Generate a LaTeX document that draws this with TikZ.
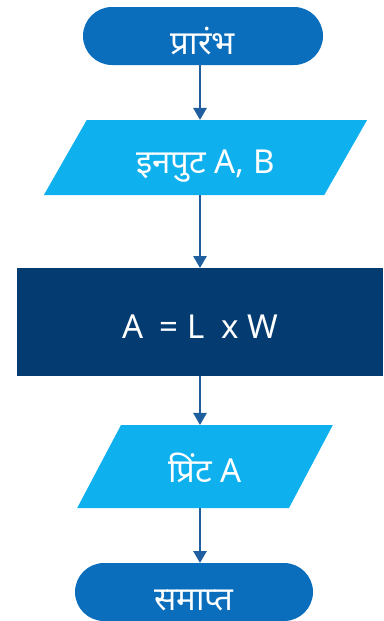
\documentclass[tikz,border=0pt]{standalone}
\usepackage{fontspec}
\setmainfont{Noto Sans}
\newfontfamily\devfont[Script=Devanagari]{Noto Sans}
\usetikzlibrary{arrows.meta, shapes.geometric}
\definecolor{azulterminal}{HTML}{0A6EBD}
\definecolor{azulentrada}{HTML}{0FB0EE}
\definecolor{azulproceso}{HTML}{043C72}
\definecolor{azulflecha}{HTML}{1F5F9F}
\tikzset{
    terminal/.style={rectangle, rounded corners=29pt, fill=azulterminal, minimum width=240pt, minimum height=58pt, inner sep=0pt, outer sep=0pt, text=white, text height=37pt, text depth=0pt, font=\devfont\fontsize{33}{38}\selectfont},
    entrada/.style={trapezium, trapezium stretches=true, fill=azulentrada, inner sep=0pt, outer sep=0pt, text=white, text height=32pt, text depth=0pt, font=\devfont\fontsize{33}{38}\selectfont},
    proceso/.style={rectangle, fill=azulproceso, inner sep=0pt, outer sep=0pt, text=white, text height=32pt, text depth=0pt, font=\devfont\fontsize{33}{38}\selectfont},
    flecha/.style={draw=azulflecha, line width=2.8pt, -{Triangle[width=13pt,length=12pt]}},
}

\begin{document}
\begin{tikzpicture}[x=1pt, y=-1pt]
\useasboundingbox (0,0) rectangle (383,621);
% nodos
\node[terminal] (inicio) at (203,36) {प्रारंभ\hspace{6pt}};
\node[entrada, trapezium left angle=52, trapezium right angle=128, minimum width=324pt, minimum height=75pt] (entrada) at (205.5,157.5) {इनपुट A, B\hspace{14pt}};
\node[proceso, minimum width=366pt, minimum height=108pt] (proceso) at (200,322) {A\enspace= L\enspace x W};
\node[entrada, trapezium left angle=59, trapezium right angle=121, minimum width=256pt, minimum height=83pt] (imprimir) at (205,466.5) {प्रिंट A};
\node[terminal, minimum width=238pt] (fin) at (194,592) {समाप्त\hspace{8pt}};
% flechas
\draw[flecha] (inicio.south -| proceso) -- (entrada.north -| proceso);
\draw[flecha] (entrada.south -| proceso) -- (proceso.north);
\draw[flecha] (proceso.south) -- (imprimir.north -| proceso);
\draw[flecha] (imprimir.south -| proceso) -- (fin.north -| proceso);
\end{tikzpicture}
\end{document}
